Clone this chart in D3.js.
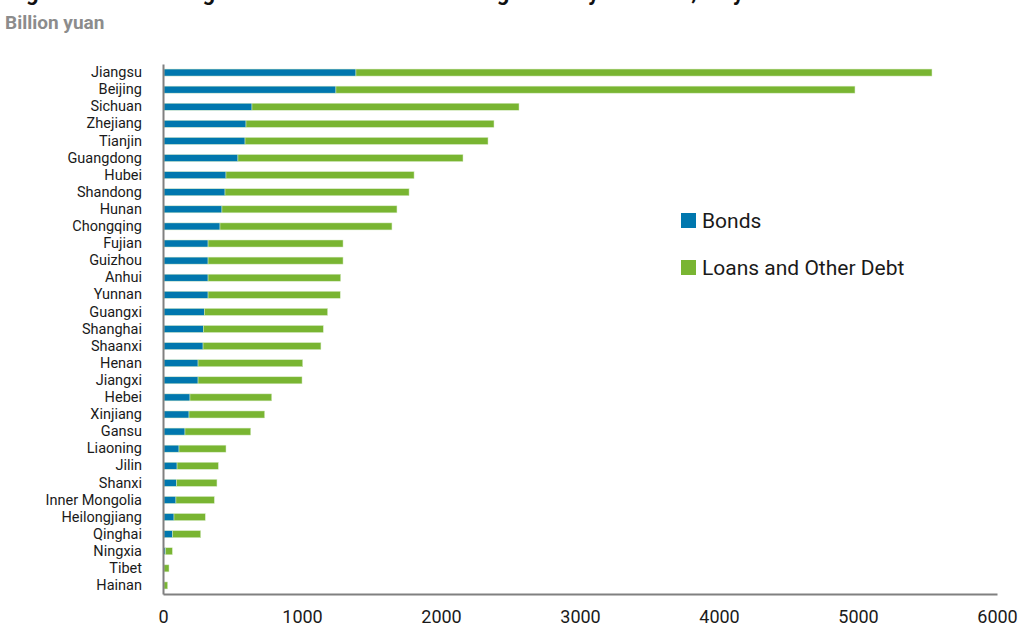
<!DOCTYPE html>
<html>
<head>
<meta charset="utf-8">
<script src="https://cdn.jsdelivr.net/npm/d3@7"></script>
<style>
  html, body { margin: 0; padding: 0; background: #fff; }
  svg { display: block; }
</style>
</head>
<body>
<div id="chart"></div>
<script>
const provinces = ["Jiangsu", "Beijing", "Sichuan", "Zhejiang", "Tianjin", "Guangdong", "Hubei",
  "Shandong", "Hunan", "Chongqing", "Fujian", "Guizhou", "Anhui", "Yunnan", "Guangxi", "Shanghai",
  "Shaanxi", "Henan", "Jiangxi", "Hebei", "Xinjiang", "Gansu", "Liaoning", "Jilin", "Shanxi",
  "Inner Mongolia", "Heilongjiang", "Qinghai", "Ningxia", "Tibet", "Hainan"];
const bonds = [1381, 1237, 633, 590, 583, 532, 446, 439, 417, 403, 317, 317, 317, 317, 290, 283,
  281, 245, 245, 187, 180, 151, 108, 94, 91, 86, 72, 62, 12, 0, 0];
const loans = [4144, 3734, 1921, 1784, 1748, 1619, 1353, 1324, 1259, 1237, 971, 971, 954, 951, 887, 863,
  848, 753, 748, 588, 544, 473, 338, 297, 290, 276, 225, 202, 48, 36, 26];
const xTicks = [0, 1000, 2000, 3000, 4000, 5000, 6000];
const seriesNames = ["Bonds", "Loans and Other Debt"];

window.addEventListener("load", () => {
  const width = 1020;
  const height = 629;
  const blue = "#0077ae";
  const green = "#79b532";
  const axisGrey = "#808080";
  const textColor = "#1a1a1a";
  const font = "Roboto, 'Liberation Sans', sans-serif";

  const svg = d3.select("#chart").append("svg")
    .attr("width", width)
    .attr("height", height)
    .style("font-family", font);

  // title is cropped off at the top of the picture
  svg.append("text")
    .attr("x", 8).attr("y", 0)
    .attr("font-size", "22px")
    .attr("font-weight", "bold")
    .attr("fill", "#111")
    .text("Figure 4 Outstanding Local Government Debt Obligations by Province, July 2013");

  svg.append("text")
    .attr("x", 5).attr("y", 29)
    .attr("font-size", "19px")
    .attr("font-weight", "bold")
    .attr("fill", "#8c8c8c")
    .text("Billion yuan");

  const x = d3.scaleLinear().domain([0, 6000]).range([163, 997]);
  const y = d3.scaleBand().domain(provinces).range([64, 594]).paddingInner(0.59).paddingOuter(0.295);

  const rows = provinces.map((p, i) => ({ name: p, Bonds: bonds[i], "Loans and Other Debt": loans[i] }));
  const stacked = d3.stack().keys(seriesNames)(rows);
  const colors = d3.scaleOrdinal().domain(seriesNames).range([blue, green]);

  svg.append("g")
    .selectAll("g")
    .data(stacked)
    .join("g")
    .attr("fill", d => colors(d.key))
    .selectAll("rect")
    .data(d => d)
    .join("rect")
    .attr("x", d => x(d[0]) + 1)
    .attr("y", d => y(d.data.name))
    .attr("width", d => Math.max(0, x(d[1]) - x(d[0])))
    .attr("height", y.bandwidth())
    .attr("stroke", "#d8ecc6")
    .attr("stroke-width", 0.5);

  const yAxis = svg.append("g")
    .attr("transform", `translate(163,0)`)
    .call(d3.axisLeft(y).tickSize(0).tickPadding(21));
  yAxis.select(".domain").attr("stroke", axisGrey).attr("stroke-width", 2);
  yAxis.selectAll("text")
    .attr("font-size", "14.5px")
    .attr("font-family", font)
    .attr("fill", textColor);

  const xAxis = svg.append("g")
    .attr("transform", `translate(0,594)`)
    .call(d3.axisBottom(x).tickValues(xTicks).tickFormat(d3.format("d")).tickSize(0).tickPadding(16));
  xAxis.select(".domain").attr("stroke", axisGrey).attr("stroke-width", 2);
  xAxis.selectAll("text")
    .attr("font-size", "18px")
    .attr("font-family", font)
    .attr("fill", textColor);

  const legend = svg.append("g")
    .selectAll("g")
    .data(seriesNames)
    .join("g")
    .attr("transform", (d, i) => `translate(681,${213 + i * 47})`);
  legend.append("rect")
    .attr("width", 15).attr("height", 15)
    .attr("fill", d => colors(d));
  legend.append("text")
    .attr("x", 21).attr("y", 8)
    .attr("dominant-baseline", "central")
    .attr("font-size", "21px")
    .attr("fill", textColor)
    .text(d => d);
});
</script>
</body>
</html>
